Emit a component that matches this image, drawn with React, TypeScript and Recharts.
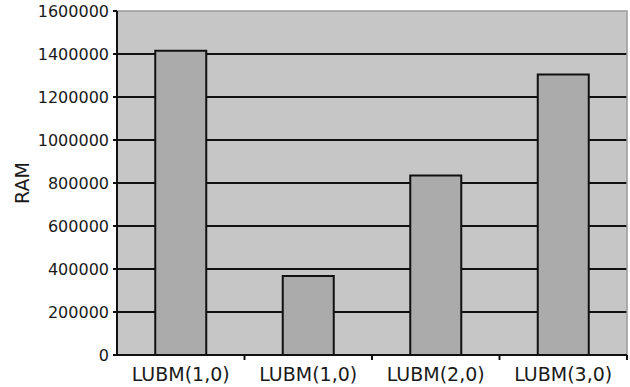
import React from 'react';
import { BarChart, Bar, XAxis, YAxis, CartesianGrid, ReferenceArea, Label } from 'recharts';

const categories = ['LUBM(1,0)', 'LUBM(1,0)', 'LUBM(2,0)', 'LUBM(3,0)'];
const ramValues = [1415000, 367000, 835000, 1305000];
const yTicks = [0, 200000, 400000, 600000, 800000, 1000000, 1200000, 1400000, 1600000];
const gridValues = [200000, 400000, 600000, 800000, 1000000, 1200000, 1400000];

const data = categories.map((name, i) => ({ key: `c${i}`, name, ram: ramValues[i] }));

const WIDTH = 630;
const HEIGHT = 387;
const MARGIN = { top: 11, right: 3, bottom: 2, left: 0 };
const Y_WIDTH = 117;
const BAND = (WIDTH - MARGIN.right - Y_WIDTH) / categories.length;
const FONT = '"DejaVu Sans", sans-serif';

const XTick = (props: any) => {
  const { x, y, payload } = props;
  const idx = Number(String(payload.value).slice(1));
  const right = x + BAND / 2;
  return (
    <g>
      <line x1={right} y1={y - 8} x2={right} y2={y - 3} stroke="#111" strokeWidth={2} />
      <text x={x} y={y + 18} textAnchor="middle" fontSize={19} fill="#1a1a1a" fontFamily={FONT}>
        {categories[idx]}
      </text>
    </g>
  );
};

const RamLabel = (props: any) => {
  const vb = props.viewBox || {};
  const cx = 22;
  const cy = (vb.y ?? MARGIN.top) + (vb.height ?? 344) / 2;
  return (
    <text
      x={cx}
      y={cy}
      transform={`rotate(-90 ${cx} ${cy})`}
      textAnchor="middle"
      dominantBaseline="central"
      fontSize={19}
      fill="#1a1a1a"
      fontFamily={FONT}
    >
      RAM
    </text>
  );
};

export default function App() {
  return (
    <div style={{ position: 'absolute', left: 0, top: 0, width: WIDTH, height: HEIGHT, background: '#fff' }}>
      <BarChart width={WIDTH} height={HEIGHT} data={data} margin={MARGIN} barCategoryGap="30%">
        <CartesianGrid
          vertical={false}
          horizontalValues={gridValues}
          stroke="#111"
          strokeWidth={2}
          fill="#c6c6c6"
          fillOpacity={1}
        />
        <ReferenceArea y1={0} y2={1600000} fill="none" stroke="#9a9a9a" strokeWidth={1.5} />
        <XAxis
          dataKey="key"
          height={30}
          tick={<XTick />}
          tickLine={false}
          axisLine={{ stroke: '#111', strokeWidth: 2 }}
          interval={0}
        />
        <YAxis
          width={Y_WIDTH}
          domain={[0, 1600000]}
          ticks={yTicks}
          interval={0}
          tickSize={4}
          tickMargin={4}
          tickLine={{ stroke: '#111', strokeWidth: 2 }}
          axisLine={{ stroke: '#111', strokeWidth: 2 }}
          tick={{ fontSize: 16, fill: '#1a1a1a', fontFamily: FONT }}
        >
          <Label content={<RamLabel />} />
        </YAxis>
        <Bar dataKey="ram" fill="#ababab" stroke="#111" strokeWidth={2} isAnimationActive={false} />
      </BarChart>
    </div>
  );
}
